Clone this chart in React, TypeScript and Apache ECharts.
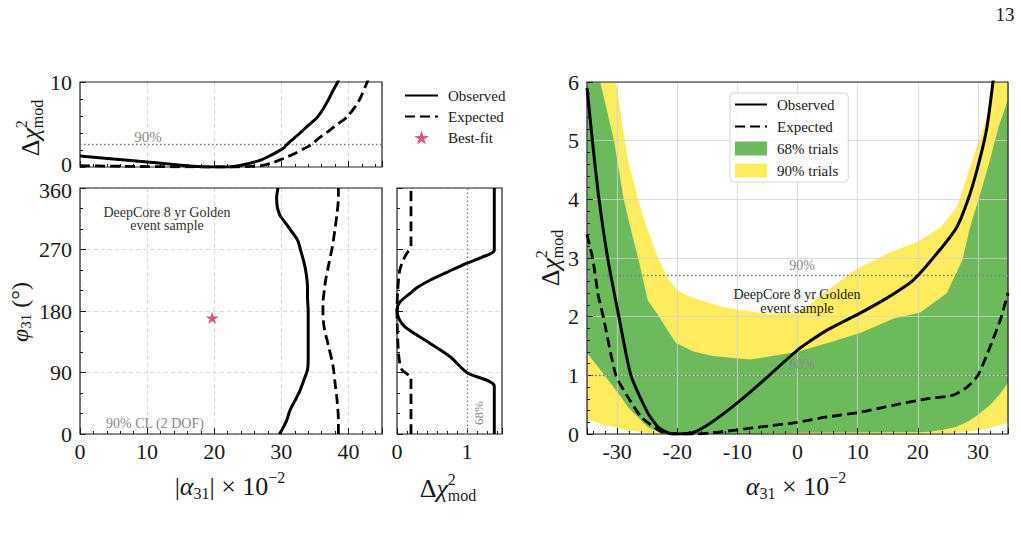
import React, { useEffect, useRef } from "react";
import * as echarts from "echarts";

// ---------- profile in |alpha31| (top-left) ----------
const obsAlphaProfile: number[][] = [
  [0, 1.3], [5, 0.95], [10, 0.6], [15, 0.22], [18, 0.03], [20, 0], [22, 0], [24, 0.2],
  [26.9, 0.8], [28.5, 1.4], [30.3, 2.2], [30.9, 2.7], [32.8, 4.0], [34, 4.9], [35.3, 5.8],
  [36.2, 6.8], [37, 7.9], [37.7, 9], [38.4, 10], [38.8, 10.8],
];
const expAlphaProfile: number[][] = [
  [0, 0.15], [5, 0.1], [10, 0.05], [15, 0.02], [20, 0], [23, 0], [25, 0.05], [27, 0.15],
  [28.5, 0.45], [30.3, 1.0], [32, 1.6], [33.5, 2.2], [34.6, 2.7], [35.3, 3.2], [37, 4.2],
  [38.5, 5.1], [39.8, 5.9], [41.5, 7.7], [42.8, 10], [43.2, 10.8],
];

// ---------- 90% CL contours in (|alpha31|, phi31) ----------
const obsContour: number[][] = [
  [29.7, 0], [30.1, 6], [30.8, 20], [31.3, 35], [32.1, 50], [32.8, 64], [33.4, 80], [33.9, 94],
  [34.0, 110], [34.0, 135], [34.0, 160], [34.0, 180], [33.9, 200], [33.9, 215], [33.7, 235],
  [33.4, 250], [32.9, 268], [32.4, 284], [31.5, 297], [30.6, 309], [29.8, 320], [29.4, 332],
  [29.3, 345], [29.5, 360],
];
const expContour: number[][] = [
  [38.5, 0], [38.5, 20], [38.3, 50], [38.0, 75], [37.7, 100], [37.0, 130], [36.4, 155],
  [36.2, 175], [36.2, 190], [36.4, 210], [36.6, 225], [37.1, 250], [37.6, 274], [38.0, 300],
  [38.3, 323], [38.5, 345], [38.5, 360],
];
const bestFit: number[][] = [[19.7, 170]];

// ---------- profile in phi31 (narrow panel), [dchi2, phi] ----------
const obsPhiProfile: number[][] = [
  [1.39, 0], [1.39, 70], [1.0, 89.7], [0.76, 113], [0.47, 132.7], [0.25, 147], [0.11, 157],
  [0.03, 168], [0, 181], [0.04, 193], [0.19, 206], [0.3, 215], [0.47, 225], [0.72, 237],
  [1.0, 250], [1.21, 258.6], [1.39, 269], [1.39, 360],
];
const expPhiProfile: number[][] = [
  [0.2, 0], [0.2, 75], [0.2, 82], [0.07, 94], [0.03, 110], [0.01, 140], [0, 180], [0.01, 210],
  [0.04, 240], [0.11, 259], [0.2, 277], [0.2, 360],
];

// ---------- signed alpha31 profile (right panel) ----------
const obsSigned: number[][] = [
  [-35, 5.9], [-34, 4.9], [-33, 4], [-31.5, 2.96], [-29.7, 2], [-27.7, 1], [-24.9, 0.36],
  [-23.2, 0.12], [-21.5, 0.02], [-20, 0], [-17.2, 0.03], [-14.4, 0.19], [-10, 0.53],
  [-6.1, 0.87], [0, 1.43], [4.9, 1.77], [10.4, 2.06], [14.9, 2.32], [19.2, 2.62],
  [23.2, 3.08], [26.5, 3.53], [28.7, 4.1], [30.4, 4.72], [31.5, 5.23], [32.5, 6], [33, 6.5],
];
const expSigned: number[][] = [
  [-35, 3.4], [-34, 2.96], [-33.2, 2.4], [-32.3, 2], [-30.2, 1], [-28.2, 0.63], [-26, 0.29],
  [-23.9, 0.12], [-22.2, 0.02], [-20, 0], [-17, 0], [-13.3, 0.03], [-6.1, 0.12], [0, 0.2],
  [4.9, 0.29], [10.4, 0.37], [15.9, 0.49], [21.5, 0.6], [25.8, 0.66], [28.2, 0.8], [30, 1.0],
  [32, 1.48], [33.7, 1.94], [35, 2.4],
];
const band90Upper: number[][] = [
  [-35, 7.5], [-30.2, 6], [-28.2, 4.67], [-26.5, 4], [-25, 3.5], [-23, 2.96], [-21.5, 2.65],
  [-20, 2.45], [-18, 2.35], [-16, 2.28], [-13, 2.18], [-10, 2.12], [-5, 2.05], [0, 2.07],
  [2, 2.2], [5, 2.45], [8, 2.68], [10, 2.82], [15, 3.08], [20, 3.28], [23.7, 3.51],
  [26.5, 3.87], [28.7, 4.55], [30, 4.95], [31.5, 5.4], [32.8, 6], [35, 7.2],
];
const band90Lower: number[][] = [
  [-35, 0.25], [-33, 0.18], [-30.5, 0.12], [-28, 0.06], [-26, 0.03], [-24, 0.01], [-22, 0],
  [22, 0], [25, 0.01], [27, 0.03], [30, 0.06], [32.5, 0.12], [35, 0.19],
];
const band68Upper: number[][] = [
  [-35, 7.5], [-32.8, 6], [-30.5, 5], [-28.9, 4], [-27.5, 3.4], [-26.4, 2.96], [-24.9, 2.28],
  [-23, 2.0], [-21.5, 1.75], [-20.2, 1.55], [-17.2, 1.4], [-14, 1.33], [-11.1, 1.3],
  [-7.8, 1.27], [-6, 1.3], [0, 1.4], [5, 1.55], [10.4, 1.72], [16, 1.97], [20.4, 2.07],
  [23.2, 2.28], [24.8, 2.4], [26.2, 2.7], [27.4, 2.96], [28.7, 3.53], [30.4, 4.1], [32, 4.67],
  [33.4, 5.23], [35, 5.7],
];
const band68Lower: number[][] = [
  [-35, 1.38], [-33, 1.12], [-31.5, 0.92], [-29.5, 0.65], [-28.2, 0.46], [-26.5, 0.28],
  [-24.9, 0.12], [-23.5, 0.05], [-22, 0], [-8, 0], [0, 0.02], [15, 0.03], [20, 0.03],
  [22, 0.04], [24, 0.07], [26, 0.11], [27, 0.15], [28.5, 0.22], [30, 0.33], [32, 0.49],
  [33.5, 0.66], [35, 0.87],
];

const CL90 = 2.71;
const CL68 = 1.0;

const SERIF = '"Liberation Serif", "DejaVu Serif", serif';
const INK = "#1a1a1a";
const GREY = "#8a8a8a";
const GREEN = "#6cba5c";
const YELLOW = "#feec5e";
const STAR_COLOR = "#d42a5f";
const STAR =
  "path://M50,0 L61,35 L98,35 L68,57 L79,91 L50,70 L21,91 L32,57 L2,35 L39,35 Z";

type Part = { t: string; fs: number; dy?: number; it?: boolean; stack?: boolean };

function buildMathLabel(
  ctx: CanvasRenderingContext2D,
  parts: Part[],
  cx: number,
  cy: number,
  rotation = 0
) {
  let end = 0;
  let prevStart = 0;
  const kids: any[] = [];
  parts.forEach((p) => {
    ctx.font = `${p.it ? "italic " : ""}${p.fs}px ${SERIF}`;
    const w = ctx.measureText(p.t).width;
    const start = p.stack ? prevStart : end;
    kids.push({
      type: "text",
      x: start,
      y: p.dy || 0,
      style: {
        text: p.t,
        fontSize: p.fs,
        fontFamily: SERIF,
        fontStyle: p.it ? "italic" : "normal",
        fill: INK,
        align: "left",
        verticalAlign: "middle",
      },
    });
    prevStart = start;
    end = Math.max(end, start + w);
  });
  kids.forEach((k) => (k.x -= end / 2));
  return { type: "group", x: cx, y: cy, rotation, children: kids, z: 10 };
}

function dchiParts(fs: number, sfs: number): Part[] {
  return [
    { t: "Δ", fs },
    { t: "χ", fs, it: true },
    { t: "2", fs: sfs, dy: -fs * 0.33 },
    { t: "mod", fs: sfs, dy: fs * 0.3, stack: true },
  ];
}

function plainText(text: string, x: number, y: number, fs: number, fill: string, align = "center", rotation = 0) {
  return {
    type: "text",
    x,
    y,
    rotation,
    z: 10,
    style: { text, fontSize: fs, fontFamily: SERIF, fill, align, verticalAlign: "middle" },
  };
}

function bandRenderer(upper: number[][], lower: number[][], color: string) {
  return (params: any, api: any) => {
    const pts = upper
      .map((p) => api.coord(p))
      .concat(lower.slice().reverse().map((p) => api.coord(p)));
    const cs = params.coordSys;
    return {
      type: "polygon",
      shape: { points: pts },
      style: { fill: color },
      clipPath: { type: "rect", shape: { x: cs.x, y: cs.y, width: cs.width, height: cs.height } },
    };
  };
}

const tickFont = { fontFamily: SERIF, fontSize: 22, lineHeight: 18, color: INK };
const tickLabel = { ...tickFont, margin: 8 };
// nudged labels where the top panel meets the contour panel
const nudgedRich = {
  up: { ...tickFont, padding: [0, 0, 5, 0] },
  down: { ...tickFont, padding: [5, 0, 0, 0] },
};
const dashedGrid = { show: true, lineStyle: { color: "#d9d9d9", width: 1, type: [4, 3] } };
const solidGrid = { show: true, lineStyle: { color: "rgba(210,210,210,0.75)", width: 1.2 } };
const majorTick = { show: true, inside: true, length: 6, lineStyle: { color: INK, width: 1 } };
const minorOnly = { show: true, inside: true, length: 3, lineStyle: { color: INK, width: 1 } };

function mainAxis(gridIndex: number, min: number, max: number, extra: any) {
  return {
    type: "value",
    gridIndex,
    min,
    max,
    z: 3,
    axisLine: { show: false, onZero: false },
    axisTick: majorTick,
    splitLine: { show: false },
    ...extra,
  };
}

function minorAxis(gridIndex: number, min: number, max: number, extra: any) {
  return {
    type: "value",
    gridIndex,
    min,
    max,
    z: 3,
    position: "bottom",
    axisLine: { show: false, onZero: false },
    axisTick: minorOnly,
    axisLabel: { show: false },
    splitLine: { show: false },
    ...extra,
  };
}

const lineBase = (name: string, xi: number, yi: number, data: number[][], dashed: boolean, smooth: number | boolean) => ({
  type: "line",
  name,
  xAxisIndex: xi,
  yAxisIndex: yi,
  data,
  symbol: "none",
  showSymbol: false,
  smooth,
  z: 6,
  itemStyle: { color: "#000" },
  lineStyle: { color: "#000", width: dashed ? 2.8 : 3, type: dashed ? [10, 5] : "solid" },
});

const dottedMark = (data: any[]) => ({
  silent: true,
  symbol: "none",
  label: { show: false },
  lineStyle: { color: "#777", width: 1.3, type: [1.5, 2.5] },
  data,
});

// line entries in the legends: line only, no marker
const lineEntry = (name: string) => ({ name, itemStyle: { opacity: 0 } });

export default function App() {
  const ref = useRef<HTMLDivElement>(null);

  useEffect(() => {
    if (!ref.current) return;
    const chart = echarts.init(ref.current, null, { renderer: "svg" });
    const ctx = document.createElement("canvas").getContext("2d") as CanvasRenderingContext2D;

    const grids = [
      { left: 80, top: 82, width: 302, height: 85 },
      { left: 80, top: 188, width: 302, height: 246 },
      { left: 397, top: 188, width: 105, height: 246 },
      { left: 587, top: 82, width: 421, height: 352 },
    ].map((g) => ({
      ...g,
      show: true,
      z: 5,
      backgroundColor: "transparent",
      borderColor: "#222",
      borderWidth: 1.2,
    }));

    const option: any = {
      animation: false,
      backgroundColor: "#ffffff",
      textStyle: { fontFamily: SERIF },
      grid: grids,
      xAxis: [
        mainAxis(0, 0, 45, { interval: 10, axisLabel: { show: false }, splitLine: dashedGrid }),
        mainAxis(1, 0, 45, {
          interval: 10,
          axisLabel: { ...tickLabel, formatter: (v: number) => (v % 10 === 0 ? String(v) : "") },
          splitLine: dashedGrid,
        }),
        mainAxis(2, 0, 1.5, {
          interval: 1,
          axisLabel: { ...tickLabel, formatter: (v: number) => (v === 0 || v === 1 ? String(v) : "") },
        }),
        mainAxis(3, -35, 35, {
          splitNumber: 7,
          axisLabel: { ...tickLabel, formatter: (v: number) => (v % 10 === 0 ? String(v) : "") },
          splitLine: solidGrid,
        }),
        minorAxis(0, 0, 45, { interval: 2 }),
        minorAxis(1, 0, 45, { interval: 2 }),
        minorAxis(2, 0, 1.5, { interval: 1 / 7 }),
        minorAxis(3, -35, 35, { splitNumber: 35 }),
      ],
      yAxis: [
        mainAxis(0, 0, 10, {
          interval: 10,
          minorTick: { show: true, splitNumber: 5, length: 3, lineStyle: { color: INK } },
          axisLabel: {
            ...tickLabel,
            rich: nudgedRich,
            formatter: (v: number) => (v === 0 ? "{up|0}" : String(v)),
          },
        }),
        mainAxis(1, 0, 360, {
          interval: 90,
          minorTick: { show: true, splitNumber: 3, length: 3, lineStyle: { color: INK } },
          axisLabel: {
            ...tickLabel,
            rich: nudgedRich,
            formatter: (v: number) => (v === 360 ? "{down|360}" : String(v)),
          },
          splitLine: dashedGrid,
        }),
        mainAxis(2, 0, 360, {
          interval: 90,
          minorTick: { show: true, splitNumber: 3, length: 3, lineStyle: { color: INK } },
          axisLabel: { show: false },
          splitLine: dashedGrid,
        }),
        mainAxis(3, 0, 6, {
          interval: 1,
          minorTick: { show: true, splitNumber: 5, length: 3, lineStyle: { color: INK } },
          axisLabel: { ...tickLabel },
          splitLine: solidGrid,
        }),
      ],
      legend: [
        {
          orient: "vertical",
          left: 400,
          top: 88,
          itemWidth: 33,
          itemHeight: 14,
          itemGap: 6,
          padding: [0, 0, 0, 4],
          data: [lineEntry("Observed"), lineEntry("Expected"), "Best-fit"],
          textStyle: { fontFamily: SERIF, fontSize: 15, color: INK, padding: [0, 0, 0, 5] },
        },
        {
          orient: "vertical",
          left: 730,
          top: 93,
          itemWidth: 32,
          itemHeight: 14,
          itemGap: 7,
          padding: [4, 10, 4, 4],
          backgroundColor: "rgba(255,255,255,0.85)",
          borderColor: "#d4d4d4",
          borderWidth: 1,
          borderRadius: 4,
          data: [
            lineEntry("Observed"),
            lineEntry("Expected"),
            { name: "68% trials", icon: "rect" },
            { name: "90% trials", icon: "rect" },
          ],
          textStyle: { fontFamily: SERIF, fontSize: 15, color: INK, padding: [0, 0, 0, 5] },
        },
      ],
      series: [
        // bands (right panel)
        {
          type: "custom",
          name: "90% trials",
          xAxisIndex: 3,
          yAxisIndex: 3,
          data: [[0, 0]],
          z: 2,
          silent: true,
          itemStyle: { color: YELLOW },
          renderItem: bandRenderer(band90Upper, band90Lower, YELLOW),
        },
        {
          type: "custom",
          name: "68% trials",
          xAxisIndex: 3,
          yAxisIndex: 3,
          data: [[0, 0]],
          z: 2,
          silent: true,
          itemStyle: { color: GREEN },
          renderItem: bandRenderer(band68Upper, band68Lower, GREEN),
        },
        // top-left profile
        { ...lineBase("Observed", 0, 0, obsAlphaProfile, false, 0.3), markLine: dottedMark([{ yAxis: CL90 }]) },
        lineBase("Expected", 0, 0, expAlphaProfile, true, 0.3),
        // contours
        lineBase("Observed", 1, 1, obsContour, false, 0.3),
        lineBase("Expected", 1, 1, expContour, true, 0.3),
        {
          type: "scatter",
          name: "Best-fit",
          xAxisIndex: 1,
          yAxisIndex: 1,
          data: bestFit,
          symbol: STAR,
          symbolKeepAspect: true,
          symbolSize: 13,
          z: 7,
          itemStyle: { color: STAR_COLOR },
        },
        // phi profile
        { ...lineBase("Observed", 2, 2, obsPhiProfile, false, 0.25), markLine: dottedMark([{ xAxis: CL68 }]) },
        lineBase("Expected", 2, 2, expPhiProfile, true, 0.25),
        // signed alpha profile
        {
          ...lineBase("Observed", 3, 3, obsSigned, false, 0.2),
          markLine: dottedMark([{ yAxis: CL90 }, { yAxis: CL68 }]),
        },
        lineBase("Expected", 3, 3, expSigned, true, 0.2),
      ],
      graphic: [
        plainText("13", 1005, 14, 19, INK),
        // axis titles
        buildMathLabel(ctx, dchiParts(26, 16), 30, 128, Math.PI / 2),
        buildMathLabel(
          ctx,
          [
            { t: "φ", fs: 24, it: true },
            { t: "31", fs: 15, dy: 6 },
            { t: " (°)", fs: 24 },
          ],
          20,
          312,
          Math.PI / 2
        ),
        buildMathLabel(
          ctx,
          [
            { t: "|", fs: 26 },
            { t: "α", fs: 26, it: true },
            { t: "31", fs: 16, dy: 7 },
            { t: "| × 10", fs: 26 },
            { t: "−2", fs: 16, dy: -9 },
          ],
          230,
          486
        ),
        buildMathLabel(ctx, dchiParts(26, 16), 448, 488),
        buildMathLabel(
          ctx,
          [
            { t: "α", fs: 26, it: true },
            { t: "31", fs: 16, dy: 7 },
            { t: " × 10", fs: 26 },
            { t: "−2", fs: 16, dy: -9 },
          ],
          796,
          486
        ),
        buildMathLabel(ctx, dchiParts(26, 16), 550, 258, Math.PI / 2),
        // annotations
        plainText("90%", 148, 137, 15, GREY),
        plainText("90% CL (2 DOF)", 106, 423, 14, GREY, "left"),
        plainText("DeepCore 8 yr Golden", 167, 212, 14, "#333"),
        plainText("event sample", 167, 225, 14, "#333"),
        plainText("68%", 478, 413, 13, GREY, "center", Math.PI / 2),
        plainText("90%", 802, 265, 14, GREY),
        plainText("68%", 802, 364, 14, GREY),
        plainText("DeepCore 8 yr Golden", 797, 294, 14, "#222"),
        plainText("event sample", 797, 308, 14, "#222"),
      ],
    };

    chart.setOption(option);
    return () => chart.dispose();
  }, []);

  return (
    <div
      ref={ref}
      style={{ position: "absolute", left: 0, top: 0, width: 1021, height: 533, background: "#fff" }}
    />
  );
}
